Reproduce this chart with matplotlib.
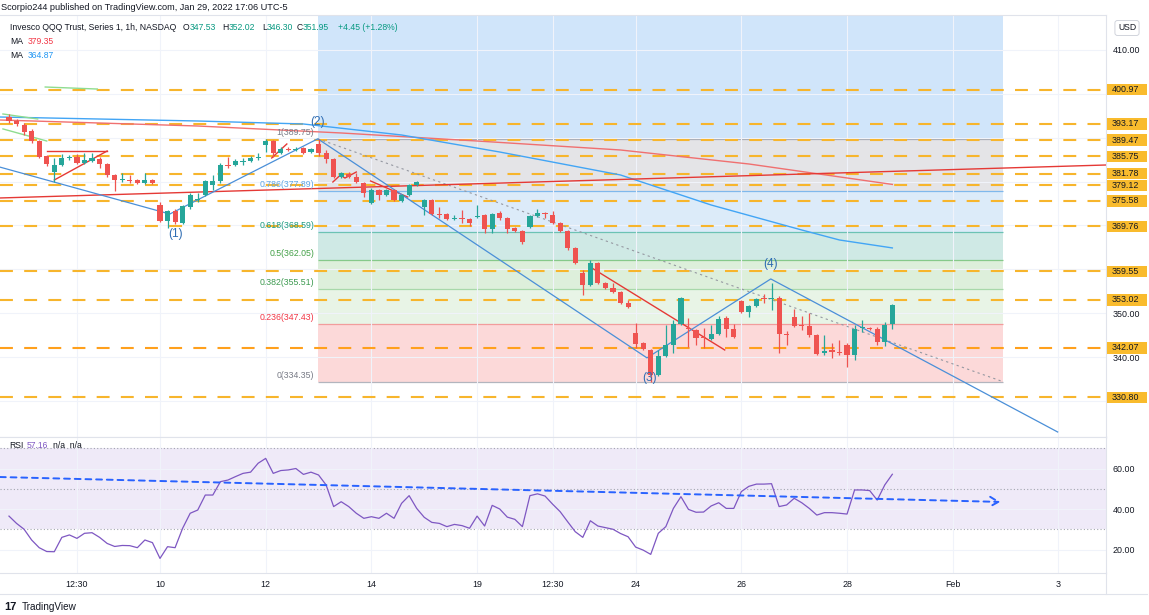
from __future__ import annotations

import numpy as np
import matplotlib

matplotlib.use("Agg")
import matplotlib.pyplot as plt
from matplotlib.lines import Line2D
from matplotlib.patches import Rectangle
from matplotlib.transforms import blended_transform_factory

plt.rcParams["font.family"] = ["Liberation Sans", "DejaVu Sans"]

W, H = 1149, 615

# ---- hourly candles, Jan 5 10:30 .. Jan 28 15:30 (bar index 0..117) ----
opens = [394.72, 393.81, 392.90, 391.53, 389.25, 385.83, 382.18, 383.78, 385.38, 385.60,
         384.24, 384.70, 385.15, 384.01, 381.50, 380.36, 380.36, 380.36, 379.68, 380.36,
         374.66, 371.01, 373.29, 370.56, 374.20, 375.70, 376.94, 379.22, 380.13, 383.78,
         383.78, 384.47, 384.69, 385.38, 388.34, 389.25, 386.52, 387.43, 387.20, 387.66,
         386.74, 388.57, 386.52, 385.15, 381.04, 381.73, 381.04, 379.68, 375.12, 378.08,
         376.94, 378.08, 375.57, 376.94, 379.22, 374.20, 375.80, 372.61, 372.61, 371.47,
         371.70, 371.47, 372.00, 372.38, 369.19, 372.84, 371.70, 369.42, 368.73, 369.65,
         372.15, 372.84, 372.38, 370.56, 368.73, 364.86, 359.16, 356.42, 361.44, 356.88,
         355.74, 354.82, 352.32, 345.48, 343.20, 341.60, 335.90, 340.23, 342.74, 347.53,
         346.62, 346.16, 344.56, 344.11, 345.25, 348.90, 346.39, 352.77, 350.26, 351.63,
         353.46, 353.23, 353.46, 345.25, 349.12, 347.30, 347.07, 345.02, 340.92, 341.60,
         341.14, 342.74, 340.46, 346.62, 346.62, 346.39, 343.42, 347.53]
highs = [395.41, 394.27, 393.36, 391.99, 389.48, 386.06, 385.38, 386.29, 386.06, 386.29,
         386.50, 386.50, 385.60, 384.24, 381.73, 381.96, 381.50, 380.60, 381.96, 380.60,
         375.34, 373.52, 373.75, 374.66, 377.40, 377.40, 380.36, 381.50, 384.24, 385.60,
         385.15, 385.38, 385.83, 386.50, 389.65, 389.48, 387.88, 387.88, 387.88, 387.88,
         387.66, 389.75, 387.20, 385.38, 382.18, 382.18, 381.96, 379.90, 378.54, 378.31,
         378.31, 378.31, 377.17, 379.45, 380.13, 376.03, 376.03, 374.20, 372.84, 372.38,
         373.52, 371.70, 374.66, 372.61, 372.84, 373.29, 371.93, 369.65, 368.96, 372.38,
         373.75, 373.07, 373.29, 370.78, 368.96, 365.08, 359.84, 362.12, 361.66, 357.10,
         356.88, 355.05, 353.00, 347.76, 343.42, 341.83, 341.60, 347.30, 348.52, 353.68,
         348.90, 346.39, 346.62, 347.30, 349.35, 349.35, 347.53, 353.00, 351.86, 353.46,
         354.37, 356.88, 353.91, 345.93, 350.95, 349.35, 350.04, 345.25, 345.02, 343.20,
         343.88, 343.20, 347.30, 348.44, 346.84, 346.84, 348.00, 352.02]
lows = [393.36, 392.67, 390.62, 388.80, 385.38, 383.55, 379.90, 383.55, 384.92, 384.01,
        384.01, 384.47, 383.10, 381.04, 377.85, 379.90, 379.70, 379.45, 379.45, 379.45,
        370.78, 369.42, 370.33, 370.33, 373.75, 375.34, 376.71, 378.08, 379.68, 383.10,
        383.55, 383.78, 384.47, 384.92, 386.74, 385.60, 386.29, 386.97, 386.97, 386.29,
        386.52, 385.83, 384.24, 380.82, 380.82, 380.82, 379.68, 376.48, 374.89, 375.80,
        376.71, 375.57, 375.34, 376.71, 379.00, 372.38, 372.38, 371.70, 371.24, 371.24,
        370.56, 369.87, 371.70, 368.28, 368.28, 371.24, 368.36, 368.50, 365.77, 369.42,
        371.93, 371.70, 370.33, 368.50, 364.40, 361.21, 354.14, 356.20, 356.65, 355.51,
        354.60, 352.09, 351.18, 342.06, 341.60, 334.35, 335.67, 339.98, 340.92, 347.30,
        342.30, 342.74, 342.06, 343.88, 345.02, 344.56, 344.34, 350.04, 349.12, 351.40,
        352.32, 350.72, 340.92, 342.74, 346.84, 346.16, 344.56, 340.46, 340.46, 339.78,
        340.46, 337.72, 339.32, 345.70, 346.16, 342.74, 342.50, 346.30]
closes = [393.81, 393.13, 391.30, 389.25, 385.60, 384.01, 383.78, 385.38, 385.60, 384.24,
          384.92, 385.38, 384.01, 381.50, 380.36, 380.60, 380.10, 379.68, 380.36, 379.68,
          371.01, 373.29, 370.78, 374.43, 376.94, 375.90, 380.13, 380.13, 383.78, 383.55,
          384.69, 384.69, 385.38, 385.60, 389.25, 386.52, 387.43, 387.20, 387.43, 386.52,
          387.43, 386.52, 385.15, 381.04, 381.96, 381.04, 379.90, 377.40, 378.08, 376.94,
          378.08, 375.80, 376.94, 379.22, 379.90, 375.80, 372.61, 372.38, 371.47, 371.70,
          371.47, 370.56, 372.15, 369.19, 372.61, 371.70, 369.19, 368.73, 366.22, 372.15,
          372.84, 372.61, 370.56, 368.73, 364.86, 361.44, 356.42, 361.44, 356.88, 355.74,
          354.82, 352.32, 351.40, 342.97, 341.83, 335.90, 340.23, 342.74, 347.53, 353.46,
          346.39, 344.34, 344.34, 345.25, 348.67, 346.39, 344.56, 350.26, 351.63, 353.23,
          353.23, 353.46, 345.25, 345.02, 347.07, 347.07, 345.02, 340.69, 341.37, 341.14,
          340.92, 340.46, 346.39, 346.84, 346.39, 343.42, 347.30, 351.95]

rsi = [36.5, 32.9, 30.0, 24.7, 20.9, 19.0, 18.9, 26.0, 27.2, 25.5,
       28.0, 28.3, 26.0, 23.0, 21.5, 22.0, 21.9, 20.9, 24.7, 23.4,
       15.6, 21.4, 20.9, 30.5, 37.9, 39.5, 46.9, 46.9, 53.5, 54.3,
       56.0, 57.6, 58.2, 62.6, 65.0, 57.6, 59.0, 59.3, 60.0, 57.1,
       58.2, 56.8, 51.9, 41.2, 43.6, 41.2, 37.9, 35.4, 36.2, 35.4,
       37.9, 35.4, 42.8, 46.6, 40.3, 35.9, 33.4, 32.9, 31.3, 32.4,
       31.8, 30.5, 36.5, 31.6, 41.8, 40.0, 36.0, 34.9, 31.3, 46.6,
       47.5, 46.4, 42.4, 38.7, 33.7, 28.8, 26.0, 34.2, 31.6, 30.8,
       30.0, 27.9, 26.3, 21.2, 19.7, 17.6, 28.0, 31.3, 40.3, 46.1,
       39.8, 38.4, 38.5, 41.5, 43.1, 40.3, 40.3, 48.6, 51.2, 52.3,
       52.3, 52.5, 41.2, 42.0, 45.3, 43.1, 40.3, 37.0, 38.2, 38.2,
       37.9, 37.5, 49.4, 49.4, 49.1, 44.4, 51.9, 57.16]

date_ticks = [9, 20, 34, 48, 62, 72, 83, 97, 111, 125, 139]
date_labels = ["12:30", "10", "12", "14", "19", "12:30", "24", "26", "28", "Feb", "3"]

levels = [400.97, 393.17, 389.47, 385.75, 381.78, 379.12, 375.58, 369.76, 359.55, 353.02, 342.07, 330.80]

fib_names = ["1", "0.786", "0.618", "0.5", "0.382", "0.236", "0"]
fib_prices = [389.75, 377.89, 368.59, 362.05, 355.51, 347.43, 334.35]
fib_span = (40.9, 131.7)

ma_red_x = [-1.2, 25, 44, 62, 81, 98, 117]
ma_red_y = [394.04, 392.67, 391.08, 389.25, 387.20, 384.01, 379.35]
ma_blue_x = [-1.2, 25, 39, 52, 65, 81, 93, 105, 110, 117]
ma_blue_y = [394.72, 393.81, 393.13, 390.62, 386.74, 381.50, 374.66, 368.96, 366.68, 364.87]

wave_x = [-1.2, 21.3, 40.9, 84.5, 100.9, 138.9]
wave_y = [383.3, 372.6, 389.75, 339.8, 357.8, 322.9]
wave_names = ["(1)", "(2)", "(3)", "(4)"]
wave_lbl_x = [22.0, 40.9, 84.9, 100.9]
wave_lbl_y = [368.0, 393.6, 335.2, 361.2]

red_lines = [
    ([5.0, 13.0], [386.97, 386.97]),
    ([6.0, 13.0], [380.36, 386.97]),
    ([34.8, 36.8], [385.38, 388.57]),
    ([42.9, 43.9, 44.5, 46.0], [379.90, 381.50, 380.80, 382.18]),
    ([47.9, 52.8], [380.13, 376.48]),
    ([77.2, 94.8], [360.30, 341.60]),
    ([-1.2, 145.3], [376.26, 383.78]),
]
green_lines = [
    ([-0.8, 3.8], [395.41, 394.27]),
    ([-0.8, 5.0], [392.00, 389.25]),
    ([4.8, 11.7], [401.56, 401.10]),
]
guide_x = [40.9, 131.7]
guide_y = [389.75, 334.35]
rsi_trend_x = [-1.2, 131.3]
rsi_trend_y = [55.8, 43.5]

GREEN = "#26a69a"
RED = "#ef5350"
TEXT = "#131722"
GRID = "#f0f3fa"
ORANGE = "#f7b52c"


def ftext(fig, x, y, s, **kw):
    kw.setdefault("fontsize", 6.4)
    kw.setdefault("color", TEXT)
    fig.text(x / W, 1 - y / H, s, va="center", ha="left", **kw)


def draw_main(fig):
    ax = fig.add_axes([0, 1 - 437 / H, 1106 / W, 422 / H])
    ax.set_xlim(-1.19, 145.3)
    ax.set_ylim(321.76, 417.98)

    # fib retracement bands
    fib_fills = ["#e4e4e7", "#dcebf9", "#cfe9e5", "#ddefdb", "#e8f4e6", "#fcd9d9"]
    fib_lines = ["#a9acb4", "#7fb8ec", "#6cc2b4", "#86c98a", "#a8d8aa", "#f29c9c", "#b2b5be"]
    fib_text = ["#787b86", "#5ea6e6", "#1a9a80", "#43a047", "#3d9a50", "#f23645", "#787b86"]
    x0, x1 = fib_span
    ax.fill_between([x0, x1], fib_prices[0], 417.98, color="#d0e5fa", lw=0, zorder=0)
    for i in range(len(fib_prices) - 1):
        ax.fill_between([x0, x1], fib_prices[i + 1], fib_prices[i], color=fib_fills[i], lw=0, zorder=0)
    for name, p, lc, tc in zip(fib_names, fib_prices, fib_lines, fib_text):
        ax.hlines(p, x0, x1, color=lc, lw=0.9, zorder=1)
        ax.text(x0 - 0.45, p + 0.45, f"{name}({p:.2f})", ha="right", va="bottom",
                fontsize=6.3, color=tc, zorder=6)

    ax.set_xticks(date_ticks)
    ax.set_xticklabels([])
    ax.set_yticks(range(330, 411, 10))
    ax.set_yticklabels(["" if v not in (340, 350, 410) else f"{v:.2f}" for v in range(330, 411, 10)])
    ax.yaxis.tick_right()
    ax.tick_params(length=0, labelsize=6.4, labelcolor=TEXT, pad=5)
    ax.grid(color=GRID, lw=0.8, zorder=0)
    for s in ax.spines.values():
        s.set_color("#e0e3eb")
        s.set_linewidth(0.8)
    ax.spines["left"].set_visible(False)

    # horizontal support / resistance levels
    for lv in levels:
        col = "#ffa01c" if lv == 342.07 else ORANGE
        ax.axhline(lv, color=col, lw=1.5, dashes=(6.2, 5.4), zorder=2)

    # moving averages and drawings
    ax.plot(ma_red_x, ma_red_y, color="#f07070", lw=1.0, zorder=2)
    ax.plot(ma_blue_x, ma_blue_y, color="#42a5f5", lw=1.0, zorder=2)
    for xs, ys in green_lines:
        ax.plot(xs, ys, color="#8fdc8f", lw=1.0, zorder=2)
    for xs, ys in red_lines:
        ax.plot(xs, ys, color="#e53935", lw=1.0, zorder=3)
    ax.plot(guide_x, guide_y, color="#9598a1", lw=0.8, ls=(0, (2, 3)), zorder=2)
    ax.plot(wave_x, wave_y, color="#4a8fd8", lw=0.9, zorder=3)
    for name, x, y in zip(wave_names, wave_lbl_x, wave_lbl_y):
        ax.text(x, y, name, ha="center", va="center", fontsize=8.6, color="#2f6db3", zorder=6)

    # candles
    idx = np.arange(len(opens))
    o, h, l, c = (np.array(v) for v in (opens, highs, lows, closes))
    cols = np.where(c >= o, GREEN, RED)
    ax.vlines(idx, l, h, colors=cols, lw=0.9, zorder=4)
    ax.bar(idx, np.maximum(np.abs(c - o), 0.25), bottom=np.minimum(o, c), width=0.68,
           color=cols, linewidth=0, zorder=5)

    # price labels on the right scale
    tr = blended_transform_factory(ax.transAxes, ax.transData)
    for lv in levels:
        ax.add_patch(Rectangle((1.0005, lv - 1.3), 40 / 1106, 2.6, transform=tr,
                               facecolor="#f9bb2d", edgecolor="none", clip_on=False, zorder=7))
        ax.text(1.0 + 6 / 1106, lv, f"{lv:.2f}", transform=tr, ha="left", va="center",
                fontsize=6.4, color=TEXT, clip_on=False, zorder=8)
    return ax


def draw_rsi(fig):
    ax = fig.add_axes([0, 1 - 573 / H, 1106 / W, 136 / H])
    ax.set_xlim(-1.19, 145.3)
    ax.set_ylim(8.4, 75.56)
    ax.fill_between([-1.19, 145.3], 30, 70, color="#efeaf8", lw=0, zorder=0)
    for v in (30, 50, 70):
        ax.axhline(v, color="#a3a6af", lw=0.8, ls=(0, (1, 2)), zorder=1)
    ax.plot(np.arange(len(rsi)), rsi, color="#7e57c2", lw=0.9, zorder=3)
    ax.annotate("", xy=(rsi_trend_x[1], rsi_trend_y[1]), xytext=(rsi_trend_x[0], rsi_trend_y[0]),
                arrowprops=dict(arrowstyle="->,head_length=0.6,head_width=0.35", color="#2962ff",
                                lw=1.4, linestyle=(0, (3, 2.5)), shrinkA=0, shrinkB=0), zorder=4)

    ax.set_yticks([20, 40, 60])
    ax.set_yticklabels(["20.00", "40.00", "60.00"])
    ax.yaxis.tick_right()
    ax.set_xticks(date_ticks)
    ax.set_xticklabels(date_labels)
    ax.tick_params(length=0, labelsize=6.4, labelcolor=TEXT, pad=5)
    ax.grid(color=GRID, lw=0.8, zorder=0)
    for s in ax.spines.values():
        s.set_color("#e0e3eb")
        s.set_linewidth(0.8)
    ax.spines["left"].set_visible(False)
    return ax


def main() -> None:
    fig = plt.figure(figsize=(W / 100, H / 100), dpi=100, facecolor="white")
    draw_main(fig)
    draw_rsi(fig)

    # frame lines of the chart area
    fig.add_artist(Line2D([0, 1147 / W], [1 - 594 / H] * 2, color="#e0e3eb", lw=0.8))
    fig.add_artist(Line2D([1106 / W] * 2, [1 - 594 / H, 1 - 573 / H], color="#e0e3eb", lw=0.8))

    ftext(fig, 1, 7, "Scorpio244 published on TradingView.com, Jan 29, 2022 17:06 UTC-5", fontsize=6.6)
    ftext(fig, 10, 28, "Invesco QQQ Trust, Series 1, 1h, NASDAQ", fontsize=6.25)
    teal = "#089981"
    for x, s, col in [(183, "O", TEXT), (190, "347.53", teal), (222, "H", TEXT), (229, "352.02", teal),
                      (262, "L", TEXT), (267, "346.30", teal), (297, "C", TEXT), (303, "351.95", teal),
                      (338, "+4.45 (+1.28%)", teal)]:
        ftext(fig, x, 28, s, color=col, fontsize=6.2)
    ftext(fig, 10, 42, "MA", fontsize=6.2)
    ftext(fig, 28, 42, "379.35", color="#f23645", fontsize=6.2)
    ftext(fig, 10, 55, "MA", fontsize=6.2)
    ftext(fig, 28, 55, "364.87", color="#2196f3", fontsize=6.2)
    ftext(fig, 9, 445, "RSI", fontsize=6.2)
    ftext(fig, 27, 445, "57.16", color="#7e57c2", fontsize=6.2)
    ftext(fig, 53, 445, "n/a  n/a", fontsize=6.2)
    fig.text(1127 / W, 1 - 28 / H, "USD", fontsize=6.2, color=TEXT, ha="center", va="center",
             bbox=dict(boxstyle="round,pad=0.35,rounding_size=0.3", fc="white", ec="#d1d4dc", lw=0.7))
    ftext(fig, 4, 607, "17", fontsize=8, fontweight="bold")
    ftext(fig, 22, 607, "TradingView", fontsize=7.2)

    fig.savefig("out.png", dpi=100, facecolor="white")
    plt.close(fig)


if __name__ == "__main__":
    main()
